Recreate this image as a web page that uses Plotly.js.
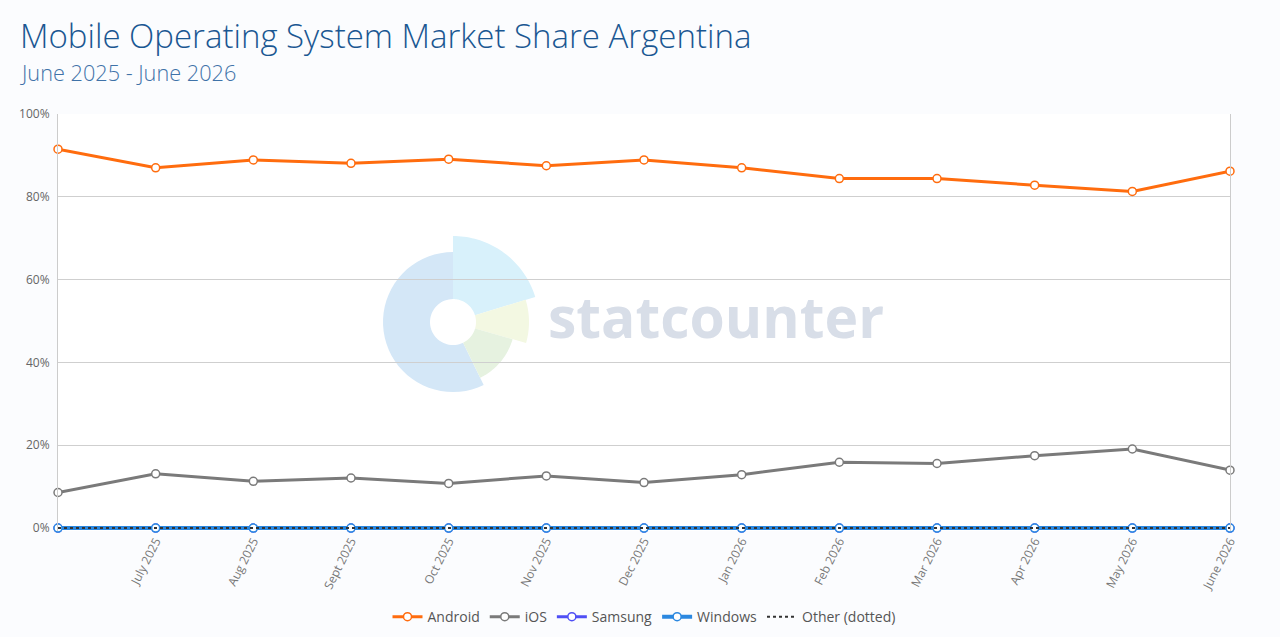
<!DOCTYPE html>
<html>
<head>
<meta charset="utf-8">
<script src="https://cdn.plot.ly/plotly-3.0.1.min.js"></script>
<style>
html,body{margin:0;padding:0;background:#fff;}
#chart{width:1280px;height:637px;}
</style>
</head>
<body>
<div id="chart"></div>
<script>
// ---- data ----
const months = ["June 2025","July 2025","Aug 2025","Sept 2025","Oct 2025","Nov 2025","Dec 2025","Jan 2026","Feb 2026","Mar 2026","Apr 2026","May 2026","June 2026"];
const tickLabels = ["July 2025","Aug 2025","Sept 2025","Oct 2025","Nov 2025","Dec 2025","Jan 2026","Feb 2026","Mar 2026","Apr 2026","May 2026","June 2026"];
const android = [91.5, 87.0, 88.9, 88.1, 89.1, 87.5, 88.9, 87.0, 84.4, 84.4, 82.8, 81.3, 86.2];
const ios     = [8.6, 13.1, 11.3, 12.1, 10.8, 12.6, 11.0, 12.9, 15.9, 15.6, 17.5, 19.1, 14.0];
const samsung = [0, 0, 0, 0, 0, 0, 0, 0, 0, 0, 0, 0, 0];
const windows = [0, 0, 0, 0, 0, 0, 0, 0, 0, 0, 0, 0, 0];
const other   = [0, 0, 0, 0, 0, 0, 0, 0, 0, 0, 0, 0, 0];
const yTicks  = [0, 20, 40, 60, 80, 100];

// ---- geometry helpers (layout only) ----
const W = 1280, H = 637;
const Y0PX = 528, Y100PX = 114;           // pixel rows of 0% and 100%
const PXPER = (Y0PX - Y100PX) / 100;      // px per percent
const YMIN = -0.7;                        // small pad so the 0% line is not clipped
const ML = 58, MR = 50, MT = Y100PX;
const MB = H - (Y0PX - YMIN * PXPER);
const PW = W - ML - MR, PH = H - MT - MB;
const px2x = px => (px - ML) / PW;
const py2y = py => (H - MB - py) / PH;

function wedge(cx, cy, rIn, rOut, a1, a2) {
  const pts = [];
  const n = 40;
  for (let i = 0; i <= n; i++) {
    const a = (a1 + (a2 - a1) * i / n) * Math.PI / 180;
    pts.push([cx + rOut * Math.cos(a), cy - rOut * Math.sin(a)]);
  }
  for (let i = n; i >= 0; i--) {
    const a = (a1 + (a2 - a1) * i / n) * Math.PI / 180;
    pts.push([cx + rIn * Math.cos(a), cy - rIn * Math.sin(a)]);
  }
  return 'M' + pts.map(p => px2x(p[0]).toFixed(5) + ',' + py2y(p[1]).toFixed(5)).join('L') + 'Z';
}
const LCX = 453, LCY = 322;
const logoShapes = [
  {path: wedge(LCX, LCY, 23, 70, 90, 296), fill: '#d4e7f7'},
  {path: wedge(LCX, LCY, 23, 86, 17, 90), fill: '#d8f1fb'},
  {path: wedge(LCX, LCY, 23, 76, -16, 17), fill: '#f3f8e2'},
  {path: wedge(LCX, LCY, 23, 62, -64, -16), fill: '#e6f2e0'}
].map(s => ({type: 'path', xref: 'paper', yref: 'paper', path: s.path,
  fillcolor: s.fill, line: {width: 0}, layer: 'below'}));

function series(name, y, color, extra) {
  return Object.assign({
    type: 'scatter', mode: 'lines+markers', name: name, x: months, y: y,
    line: {color: color, width: 3},
    marker: {symbol: 'circle', size: 8, color: '#ffffff', line: {color: color, width: 1.5}},
    cliponaxis: false, hoverinfo: 'x+y+name'
  }, extra || {});
}

const traces = [
  series('Android', android, '#ff6c0e'),
  series('iOS', ios, '#7a7a7a'),
  series('Samsung', samsung, '#4f4ff5'),
  series('Windows', windows, '#2b88e0', {line: {color: '#2b88e0', width: 4}}),
  {type: 'scatter', mode: 'lines', name: 'Other (dotted)', x: months, y: other,
   line: {color: '#333333', width: 2, dash: 'dot'}, cliponaxis: false}
];

const layout = {
  width: W, height: H,
  margin: {l: ML, r: MR, t: MT, b: MB, pad: 0, autoexpand: false},
  paper_bgcolor: '#fbfcfe',
  plot_bgcolor: '#ffffff',
  font: {family: '"Open Sans", sans-serif', color: '#666666', size: 12},
  showlegend: true,
  legend: {orientation: 'h', x: 0.5, xanchor: 'center', y: py2y(617), yanchor: 'middle',
    font: {size: 14, color: '#555555'}, bgcolor: 'rgba(0,0,0,0)', traceorder: 'normal',
    itemwidth: 30},
  xaxis: {
    type: 'category', categoryorder: 'array', categoryarray: months,
    range: [0, months.length - 1], automargin: false,
    tickmode: 'array', tickvals: tickLabels, ticktext: tickLabels,
    tickangle: -63, tickfont: {size: 12, color: '#777777'},
    showgrid: false, zeroline: false, showline: false, ticks: '', fixedrange: true
  },
  yaxis: {
    range: [YMIN, 100], automargin: false,
    tickmode: 'array', tickvals: yTicks, ticktext: yTicks.map(v => v + '%'),
    tickfont: {size: 12, color: '#666666'}, ticklabelstandoff: 5,
    showgrid: true, gridcolor: '#cfcfcf', gridwidth: 1,
    showline: true, linecolor: '#cccccc', linewidth: 1, mirror: true,
    zeroline: false, ticks: '', fixedrange: true
  },
  shapes: logoShapes,
  annotations: [
    {xref: 'paper', yref: 'paper', x: px2x(18), y: py2y(36), xanchor: 'left', yanchor: 'middle',
     text: 'Mobile Operating System Market Share Argentina', showarrow: false,
     font: {size: 33, weight: 300, color: '#1a5792', family: '"Open Sans", sans-serif'}},
    {xref: 'paper', yref: 'paper', x: px2x(18), y: py2y(73), xanchor: 'left', yanchor: 'middle',
     text: 'June 2025 - June 2026', showarrow: false,
     font: {size: 21.7, weight: 300, color: '#3f72a8', family: '"Open Sans", sans-serif'}},
    {xref: 'paper', yref: 'paper', x: px2x(716), y: py2y(316), xanchor: 'center', yanchor: 'middle',
     text: '<b>statcounter</b>', showarrow: false,
     font: {size: 57, color: '#d8dee8', family: '"Open Sans", sans-serif'}}
  ]
};

Plotly.newPlot('chart', traces, layout, {displayModeBar: false, staticPlot: true});
</script>
</body>
</html>
